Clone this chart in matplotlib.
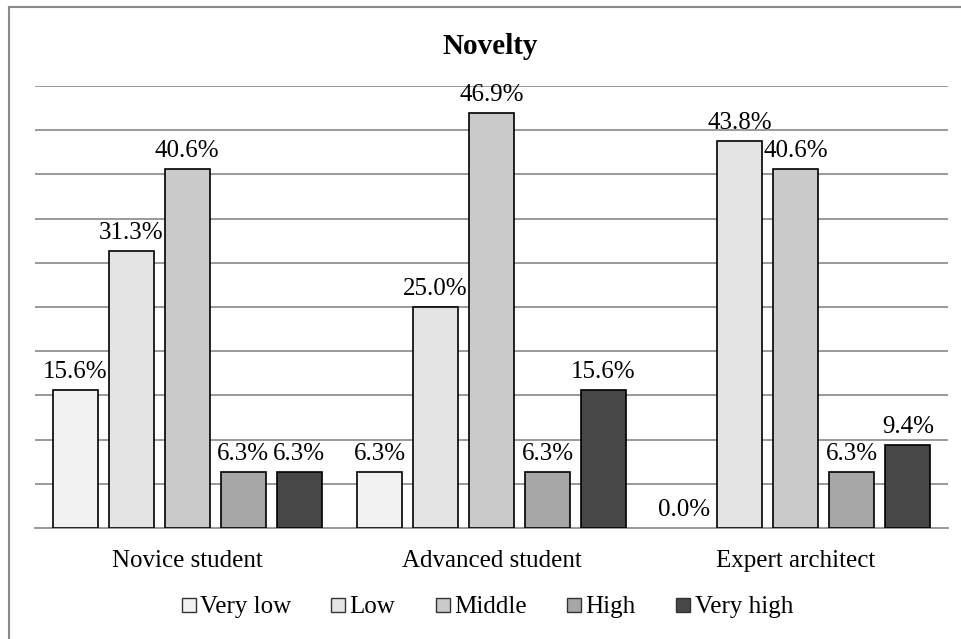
import matplotlib.pyplot as plt
import numpy as np
from matplotlib.lines import Line2D

plt.rcParams['font.family'] = ['Liberation Serif', 'DejaVu Serif']

# data
groups = ['Novice student', 'Advanced student', 'Expert architect']
levels = ['Very low', 'Low', 'Middle', 'High', 'Very high']
very_low = [15.6, 6.3, 0.0]
low = [31.3, 25.0, 43.8]
middle = [40.6, 46.9, 40.6]
high = [6.3, 6.3, 6.3]
very_high = [6.3, 15.6, 9.4]
series = [very_low, low, middle, high, very_high]
colors = ['#f2f2f2', '#e4e4e4', '#cacaca', '#a6a6a6', '#474747']

fig = plt.figure(figsize=(9.62, 6.39), dpi=100)
ax = fig.add_axes([35 / 962, 1 - 528 / 639, (948 - 35) / 962, (528 - 86) / 639])

x = np.arange(len(groups))
pitch = 0.184
width = 0.148
for i, (vals, c) in enumerate(zip(series, colors)):
    pos = x + (i - 2) * pitch
    bars = ax.bar(pos, vals, width=width, color=c, edgecolor='black',
                  linewidth=1.2, zorder=3, label=levels[i])
    for b, v in zip(bars, vals):
        if v == 0:
            b.set_linewidth(0)  # empty bar: no outline on the baseline
        ax.text(b.get_x() + b.get_width() / 2, v + 0.8, f'{v:.1f}%',
                ha='center', va='bottom', fontsize=18, zorder=4)

ax.set_xlim(-0.5, 2.5)
ax.set_ylim(0, 50)
ax.set_yticks(np.arange(0, 51, 5))
ax.yaxis.grid(True, color='#9a9a9a', linewidth=1.4, zorder=0)
ax.tick_params(axis='y', left=False, labelleft=False)
ax.tick_params(axis='x', bottom=False, labelsize=18, pad=12)
ax.set_xticks(x)
ax.set_xticklabels(groups)
for s in ['top', 'right', 'left']:
    ax.spines[s].set_visible(False)
ax.spines['bottom'].set_color('#9a9a9a')
ax.spines['bottom'].set_linewidth(1.4)

fig.text(490 / 962, 1 - 47 / 639, 'Novelty', ha='center', va='center',
         fontsize=21, fontweight='bold')

handles = [Line2D([], [], marker='s', linestyle='none', markersize=10,
                  markerfacecolor=c, markeredgecolor='#333333', markeredgewidth=1)
           for c in colors]
fig.legend(handles, levels, loc='center', bbox_to_anchor=(487 / 962, 1 - 607 / 639),
           ncol=5, frameon=False, fontsize=18, handlelength=0.6, handletextpad=0.15,
           columnspacing=1.6)

# figure frame (left and top edges visible)
fig.add_artist(Line2D([9 / 962, 9 / 962], [0, 1 - 7 / 639], color='#8a8a8a',
                      linewidth=1.5, transform=fig.transFigure))
fig.add_artist(Line2D([9 / 962, 1], [1 - 7 / 639, 1 - 7 / 639], color='#8a8a8a',
                      linewidth=1.5, transform=fig.transFigure))

fig.savefig('out.png', dpi=100)
